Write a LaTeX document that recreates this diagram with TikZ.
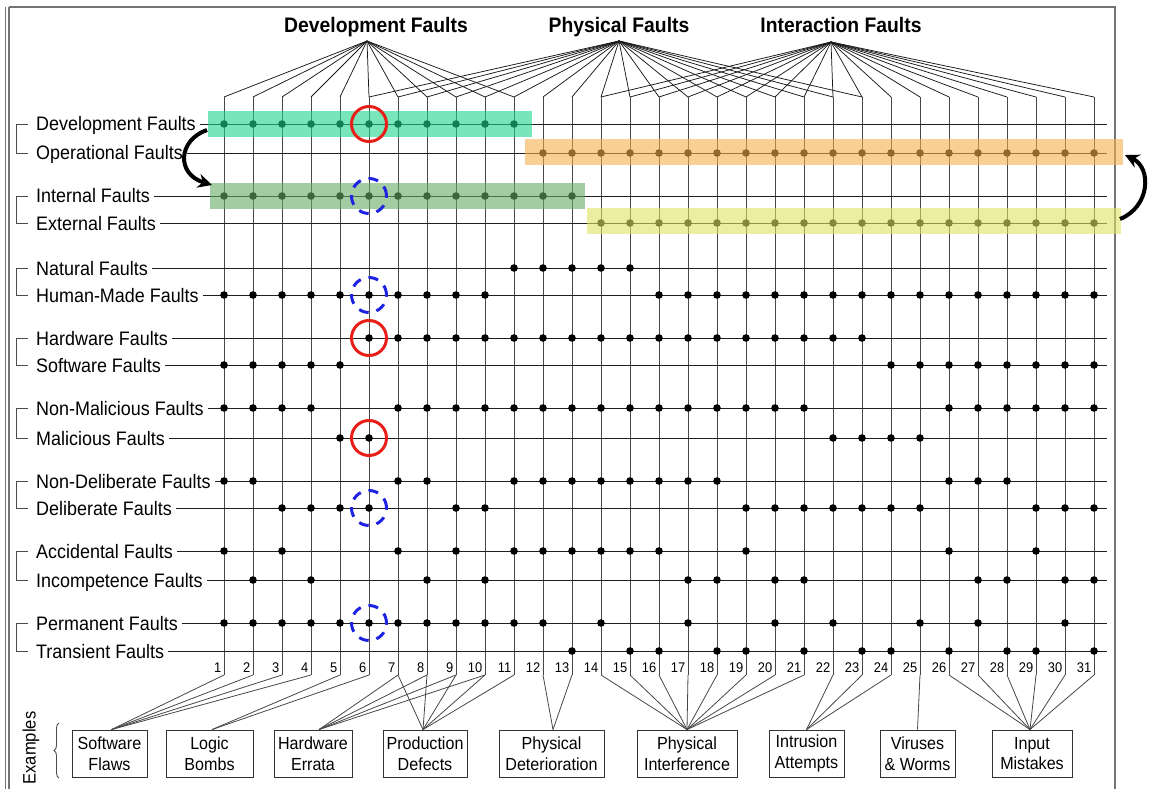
\documentclass[tikz,border=0pt]{standalone}
\usepackage{fontspec}
\setmainfont{Liberation Sans}[FakeStretch=0.92]
\usetikzlibrary{arrows.meta,decorations.pathreplacing}
\definecolor{devc}{RGB}{32,212,142}
\definecolor{intc}{RGB}{100,170,100}
\definecolor{opc}{RGB}{245,175,80}
\definecolor{extc}{RGB}{222,227,97}
\definecolor{ringred}{RGB}{232,30,25}
\definecolor{ringblue}{RGB}{30,35,225}
\newcommand\dotrow[2]{\foreach \k in {#2}{\fill[black] ({224+29*(\k-1)},#1) circle (3.8pt);}}
\begin{document}
\begin{tikzpicture}[x=1pt,y=-1pt,
  fan/.style={black!90,line width=0.75pt},
  vline/.style={black!72,line width=0.8pt},
  hline/.style={black!88,line width=0.8pt},
  brk/.style={black!70,line width=0.9pt},
  lab/.style={anchor=base west,inner sep=0pt,font=\fontsize{19.5}{22}\selectfont},
  gtitle/.style={anchor=base,font=\bfseries\fontsize{21}{24}\selectfont,inner sep=0pt},
  num/.style={anchor=east,inner sep=0pt,font=\fontsize{14}{16}\selectfont},
  exbox/.style={draw=black!80,line width=0.9pt,minimum height=47pt,align=center,inner sep=0pt,font=\fontsize{17.5}{20.5}\selectfont},
  band/.style={inner sep=0pt,draw=none,fill opacity=0.6},
  redring/.style={circle,draw=ringred,line width=3pt,minimum size=35pt,inner sep=0pt},
  bluering/.style={circle,draw=ringblue,line width=3pt,minimum size=35pt,inner sep=0pt,dash pattern=on 10pt off 8pt},
  bigarrow/.style={line width=4pt,-{Stealth[length=14pt,width=14pt]}},
  frame/.style={black!55,line width=1.2pt}]
\useasboundingbox (0,0) rectangle (1149,789);
% frame
\draw[frame] (9,7) -- (1115,7) -- (1115,795);
\draw[frame] (9,7) -- (9,795);
\draw[black!55,line width=0.8pt] (5,7) -- (5,795);
% titles
\node[gtitle] (tD) at (376,33) {Development Faults};
\node[gtitle] (tP) at (619,33) {Physical Faults};
\node[gtitle] (tI) at (841,33) {Interaction Faults};
\coordinate (aD) at (367,41);
\coordinate (aP) at (619,41);
\coordinate (aI) at (831,42);
% columns
\foreach \k in {1,...,31}{
  \coordinate (t\k) at ({224+29*(\k-1)},97);
  \coordinate (b\k) at ({224+29*(\k-1)},675);
}
\foreach \k in {1,...,11} \draw[fan] (aD) -- (t\k);
\foreach \k in {6,...,23} \draw[fan] (aP) -- (t\k);
\foreach \k in {14,...,31} \draw[fan] (aI) -- (t\k);
\foreach \k in {1,...,31}{
  \draw[vline] (t\k) -- (b\k);
  \node[num] (n\k) at ({224+29*(\k-1)-2.5},668) {\k};
}
% rows
\foreach \r/\y/\t in {dev/124/Development Faults, op/153/Operational Faults, int/196/Internal Faults, ext/223/External Faults, nat/268/Natural Faults, hum/295/Human-Made Faults, hw/338/Hardware Faults, sw/365/Software Faults, nm/408/Non-Malicious Faults, mal/438/Malicious Faults, nd/481/Non-Deliberate Faults, del/508/Deliberate Faults, acc/551/Accidental Faults, inc/580/Incompetence Faults, perm/623/Permanent Faults, tr/651/Transient Faults}{
  \node[lab] (L\r) at (36,\y+7) {\t};
  \coordinate (E\r) at (1107,\y);
  \draw[hline] ([xshift=4pt]L\r.east |- E\r) -- (E\r);
}
\foreach \a/\b in {124/153,196/223,268/295,338/365,408/438,481/508,551/580,623/651}
  \draw[brk] (28,\a) -- (16,\a) -- (16,\b) -- (28,\b);
% dots
\dotrow{124}{1,...,11}
\dotrow{153}{12,...,31}
\dotrow{196}{1,...,13}
\dotrow{223}{14,...,31}
\dotrow{268}{11,...,15}
\dotrow{295}{1,...,10}\dotrow{295}{16,...,31}
\dotrow{338}{6,...,23}
\dotrow{365}{1,...,5}\dotrow{365}{24,...,31}
\dotrow{408}{1,...,4}\dotrow{408}{7,...,21}\dotrow{408}{26,...,31}
\dotrow{438}{5,6,22,23,24,25}
\dotrow{481}{1,2,7,8}\dotrow{481}{11,...,18}\dotrow{481}{26,27,28}
\dotrow{508}{3,4,5,6,9,10}\dotrow{508}{19,...,25}\dotrow{508}{29,30,31}
\dotrow{551}{1,3,7,9}\dotrow{551}{11,...,16}\dotrow{551}{19,26,29}
\dotrow{580}{2,4,8,10,17,18,20,21,27,28,30,31}
\dotrow{623}{1,...,12}\dotrow{623}{14,17,20,22,25,27,30}
\dotrow{651}{13,15,16,18,19,21,23,24,26,28,29,31}
% bands
\node[band,fill=devc,minimum width=324pt,minimum height=26pt] (bDev) at (370,124) {};
\node[band,fill=intc,minimum width=375pt,minimum height=26pt] (bInt) at (397.5,196) {};
\node[band,fill=opc,minimum width=598pt,minimum height=26pt] (bOp) at (824,152.5) {};
\node[band,fill=extc,minimum width=534pt,minimum height=26pt] (bExt) at (854,221) {};
% rings
\node[redring] (r1) at ({224+29*5},124) {};
\node[redring] (r2) at ({224+29*5},338) {};
\node[redring] (r3) at ({224+29*5},438) {};
\node[bluering] (u1) at ({224+29*5},196) {};
\node[bluering] (u2) at ({224+29*5},295) {};
\node[bluering] (u3) at ({224+29*5},508) {};
\node[bluering] (u4) at ({224+29*5},623) {};
% arrows
\coordinate (la1) at (207,130);
\coordinate (la2) at (212,185);
\draw[bigarrow] (la1) .. controls (178,140) and (176,174) .. (la2);
\coordinate (ra1) at (1120,219);
\coordinate (ra2) at (1125,155);
\draw[bigarrow] (ra1) .. controls (1150,207) and (1152,168) .. (ra2);
% example boxes
\node[exbox,minimum width=75pt] (SF) at (109.5,753.5) {Software\\Flaws};
\node[exbox,minimum width=87pt] (LB) at (209.5,753.5) {Logic\\Bombs};
\node[exbox,minimum width=78pt] (HE) at (313,753.5) {Hardware\\Errata};
\node[exbox,minimum width=84pt] (PD) at (425,753.5) {Production\\Defects};
\node[exbox,minimum width=105pt] (PX) at (551.5,753.5) {Physical\\Deterioration};
\node[exbox,minimum width=100pt] (PI) at (687,753.5) {Physical\\Interference};
\node[exbox,minimum width=75pt] (IA) at (806.5,753.5) {Intrusion\\Attempts};
\node[exbox,minimum width=75pt] (VW) at (917.5,753.5) {Viruses\\\& Worms};
\node[exbox,minimum width=80pt] (IM) at (1032,753.5) {Input\\Mistakes};
\coordinate (SFin) at ([xshift=2pt]SF.north);
\coordinate (LBin) at ([xshift=2.5pt]LB.north);
\coordinate (HEin) at ([xshift=6pt]HE.north);
\coordinate (PDin) at ([xshift=-2pt]PD.north);
\coordinate (PXin) at ([xshift=1.5pt]PX.north);
\coordinate (IMin) at ([xshift=-2pt]IM.north);
\foreach \k in {1,...,4} \draw[vline] (b\k) -- (SFin);
\foreach \k in {5,6} \draw[vline] (b\k) -- (LBin);
\foreach \k in {7,...,10} \draw[vline] (b\k) -- (HEin);
\foreach \k in {7,...,11} \draw[vline] (b\k) -- (PDin);
\foreach \k in {12,13} \draw[vline] (b\k) -- (PXin);
\foreach \k in {14,...,21} \draw[vline] (b\k) -- (PI.north);
\foreach \k in {22,23,24} \draw[vline] (b\k) -- (IA.north);
\draw[vline] (b25) -- (VW.north);
\foreach \k in {26,...,31} \draw[vline] (b\k) -- (IMin);
% examples label
\node[rotate=90,font=\fontsize{18}{20}\selectfont,inner sep=0pt] (ex) at (31,748) {Examples};
\draw[brk,decorate,decoration={brace,amplitude=5pt}] (59,778) coordinate (brA) -- (59,723) coordinate (brB);
\end{tikzpicture}
\end{document}
